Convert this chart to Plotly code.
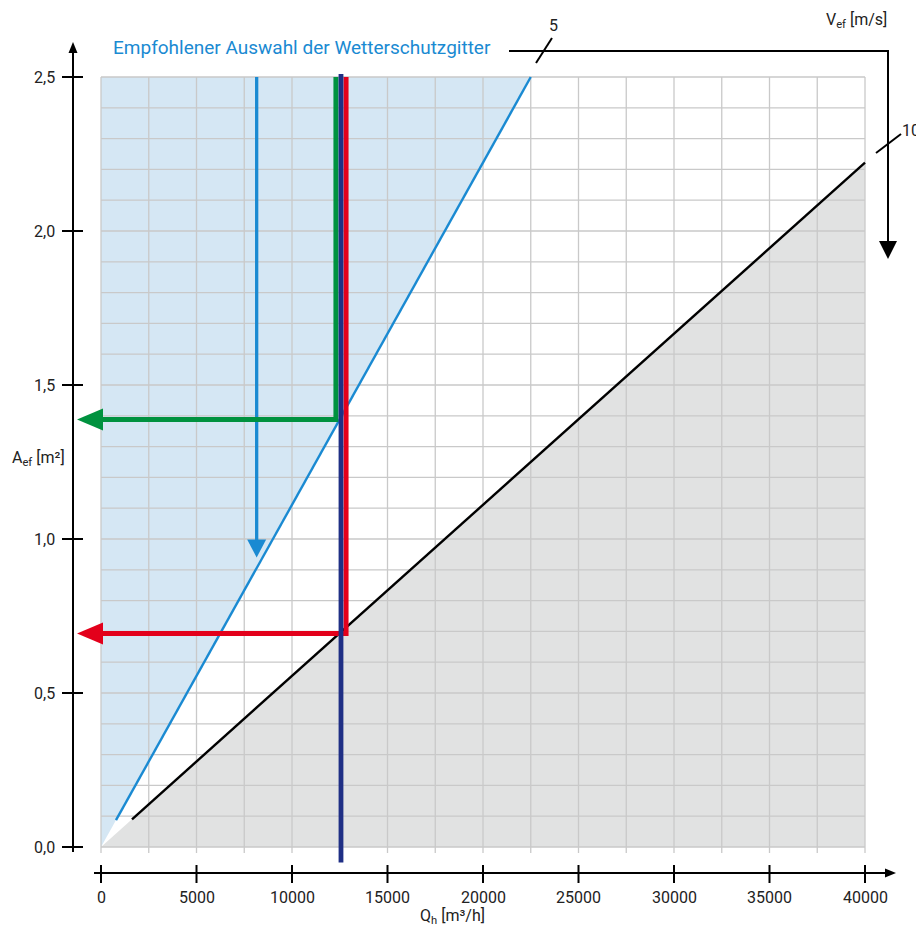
import plotly.graph_objects as go

# ---------------- data ----------------
Q_ticks = [0, 5000, 10000, 15000, 20000, 25000, 30000, 35000, 40000]
Q_tick_labels = ["0", "5000", "10000", "15000", "20000", "25000", "30000", "35000", "40000"]
A_ticks = [0.0, 0.5, 1.0, 1.5, 2.0, 2.5]
A_tick_labels = ["0,0", "0,5", "1,0", "1,5", "2,0", "2,5"]

Q_grid = [i * 2500 for i in range(17)]
A_grid = [round(i * 0.1, 1) for i in range(26)]

# velocity lines (v = 5 and v = 10)
line5_Q = [785, 22500]
line5_A = [0.087, 2.5]
line10_Q = [1623, 40000]
line10_A = [0.090, 2.222]

# shaded regions
fill_blue_Q = [0, 22500, 0]
fill_blue_A = [0, 2.5, 2.5]
fill_gray_Q = [0, 40000, 40000]
fill_gray_A = [0, 0, 2.222]

# example reading lines
guide_Q = 8150
guide_A = [2.5, 0.94]
green_Q = 12300
green_A = 1.388
red_Q = 12830
red_A = 0.693
navy_Q = 12565
navy_A = [2.51, -0.05]

# ---------------- pixel helpers (decoration only) ----------------
SX = 764 / 40000.0
SY = 308.0
def dx(px):
    return (px - 101) / SX
def dy(py):
    return (847 - py) / SY
def wpx(p):
    return p / SX
def hpx(p):
    return p / SY

BLUE = "#1a8ad2"
LBLUE = "#d5e7f4"
GRAY = "#e1e2e2"
GRID = "#c9c9c9"
GREEN = "#00923f"
RED = "#e3001b"
NAVY = "#1f2f85"
BLACK = "#000000"
FONT = "Roboto, sans-serif"

fig = go.Figure()

def poly(xs, ys, color):
    fig.add_trace(go.Scatter(x=xs + [xs[0]], y=ys + [ys[0]], fill="toself", fillcolor=color,
                             mode="lines", line=dict(width=0, color=color), hoverinfo="skip"))

def line(xs, ys, color, width):
    fig.add_trace(go.Scatter(x=xs, y=ys, mode="lines", line=dict(color=color, width=width),
                             hoverinfo="skip"))

def arrowhead(tx, ty, direction, length, width, color):
    L = length; W = width / 2.0
    if direction == "left":
        xs = [tx, tx + wpx(L), tx + wpx(L)]; ys = [ty, ty + hpx(W), ty - hpx(W)]
    elif direction == "right":
        xs = [tx, tx - wpx(L), tx - wpx(L)]; ys = [ty, ty + hpx(W), ty - hpx(W)]
    elif direction == "down":
        xs = [tx, tx - wpx(W), tx + wpx(W)]; ys = [ty, ty + hpx(L), ty + hpx(L)]
    else:
        xs = [tx, tx - wpx(W), tx + wpx(W)]; ys = [ty, ty - hpx(L), ty - hpx(L)]
    poly(xs, ys, color)

# fills
poly(fill_blue_Q, fill_blue_A, LBLUE)
poly(fill_gray_Q, fill_gray_A, GRAY)

# grid
gx, gy = [], []
for q in Q_grid:
    gx += [q, q, None]; gy += [dy(853), 2.5, None]
for a in A_grid:
    gx += [0, 40000, None]; gy += [a, a, None]
line(gx, gy, GRID, 1.3)

# velocity lines
line(line5_Q, line5_A, BLUE, 2.4)
line(line10_Q, line10_A, BLACK, 2.4)

# guide arrow (light blue)
line([guide_Q, guide_Q], [guide_A[0], guide_A[1] + hpx(15)], BLUE, 3.3)
arrowhead(guide_Q, guide_A[1], "down", 18, 19, BLUE)

# red reading
tip_x = dx(77)
line([red_Q, red_Q, tip_x + wpx(24)], [2.5, red_A, red_A], RED, 5)
arrowhead(tip_x, red_A, "left", 26, 22, RED)

# green reading
line([green_Q, green_Q, tip_x + wpx(24)], [2.5, green_A, green_A], GREEN, 5)
arrowhead(tip_x, green_A, "left", 26, 22, GREEN)

# navy line
line([navy_Q, navy_Q], navy_A, NAVY, 4.8)

# y axis
ax_x = dx(73)
line([ax_x, ax_x], [dy(852), dy(50)], BLACK, 2)
arrowhead(ax_x, dy(42), "up", 11, 9, BLACK)
tx, ty = [], []
for a in A_ticks:
    tx += [dx(62), dx(83), None]; ty += [a, a, None]
line(tx, ty, BLACK, 2)

# x axis
ax_y = dy(873)
line([dx(94), dx(886)], [ax_y, ax_y], BLACK, 2)
arrowhead(dx(896), ax_y, "right", 11, 9, BLACK)
tx, ty = [], []
for q in Q_ticks:
    tx += [q, q, None]; ty += [dy(865), dy(883), None]
line(tx, ty, BLACK, 2)

# top-right bracket (V_ef scale)
line([dx(509), dx(888), dx(888)], [dy(51), dy(51), dy(243)], BLACK, 2)
arrowhead(dx(888), dy(259), "down", 18, 18, BLACK)
line([dx(536), dx(552)], [dy(63), dy(38)], BLACK, 2)
line([dx(876), dx(901)], [dy(153), dy(134)], BLACK, 2)

annotations = []
for a, lab in zip(A_ticks, A_tick_labels):
    annotations.append(dict(x=dx(57), y=a, text=lab, xanchor="right", yanchor="middle",
                            showarrow=False, font=dict(family=FONT, size=16, color="#222")))
for q, lab in zip(Q_ticks, Q_tick_labels):
    annotations.append(dict(x=q, y=dy(897), text=lab, xanchor="center", yanchor="middle",
                            showarrow=False, font=dict(family=FONT, size=16, color="#222")))

annotations += [
    dict(x=dx(111), y=dy(47), text="Empfohlener Auswahl der Wetterschutzgitter", xanchor="left",
         yanchor="middle", showarrow=False, font=dict(family=FONT, size=19, color=BLUE)),
    dict(x=dx(553), y=dy(25), text="5", xanchor="center", yanchor="middle", showarrow=False,
         font=dict(family=FONT, size=16, color="#222")),
    dict(x=dx(922), y=dy(130), text="10", xanchor="right", yanchor="middle", showarrow=False,
         font=dict(family=FONT, size=16, color="#222")),
    dict(x=dx(889), y=dy(20), text="V<sub>ef</sub> [m/s]", xanchor="right", yanchor="middle",
         showarrow=False, font=dict(family=FONT, size=16, color="#222")),
    dict(x=dx(10), y=dy(458), text="A<sub>ef</sub> [m²]", xanchor="left", yanchor="middle",
         showarrow=False, font=dict(family=FONT, size=16, color="#222")),
    dict(x=dx(452), y=dy(916), text="Q<sub>h</sub> [m³/h]", xanchor="center", yanchor="middle",
         showarrow=False, font=dict(family=FONT, size=16, color="#222")),
]

fig.update_layout(
    width=916, height=926,
    margin=dict(l=0, r=0, t=0, b=0),
    paper_bgcolor="white", plot_bgcolor="white",
    showlegend=False,
    xaxis=dict(range=[dx(8), dx(924)], visible=False, fixedrange=True),
    yaxis=dict(range=[dy(934), dy(8)], visible=False, fixedrange=True),
    annotations=annotations,
)

fig.write_html("out.html")
